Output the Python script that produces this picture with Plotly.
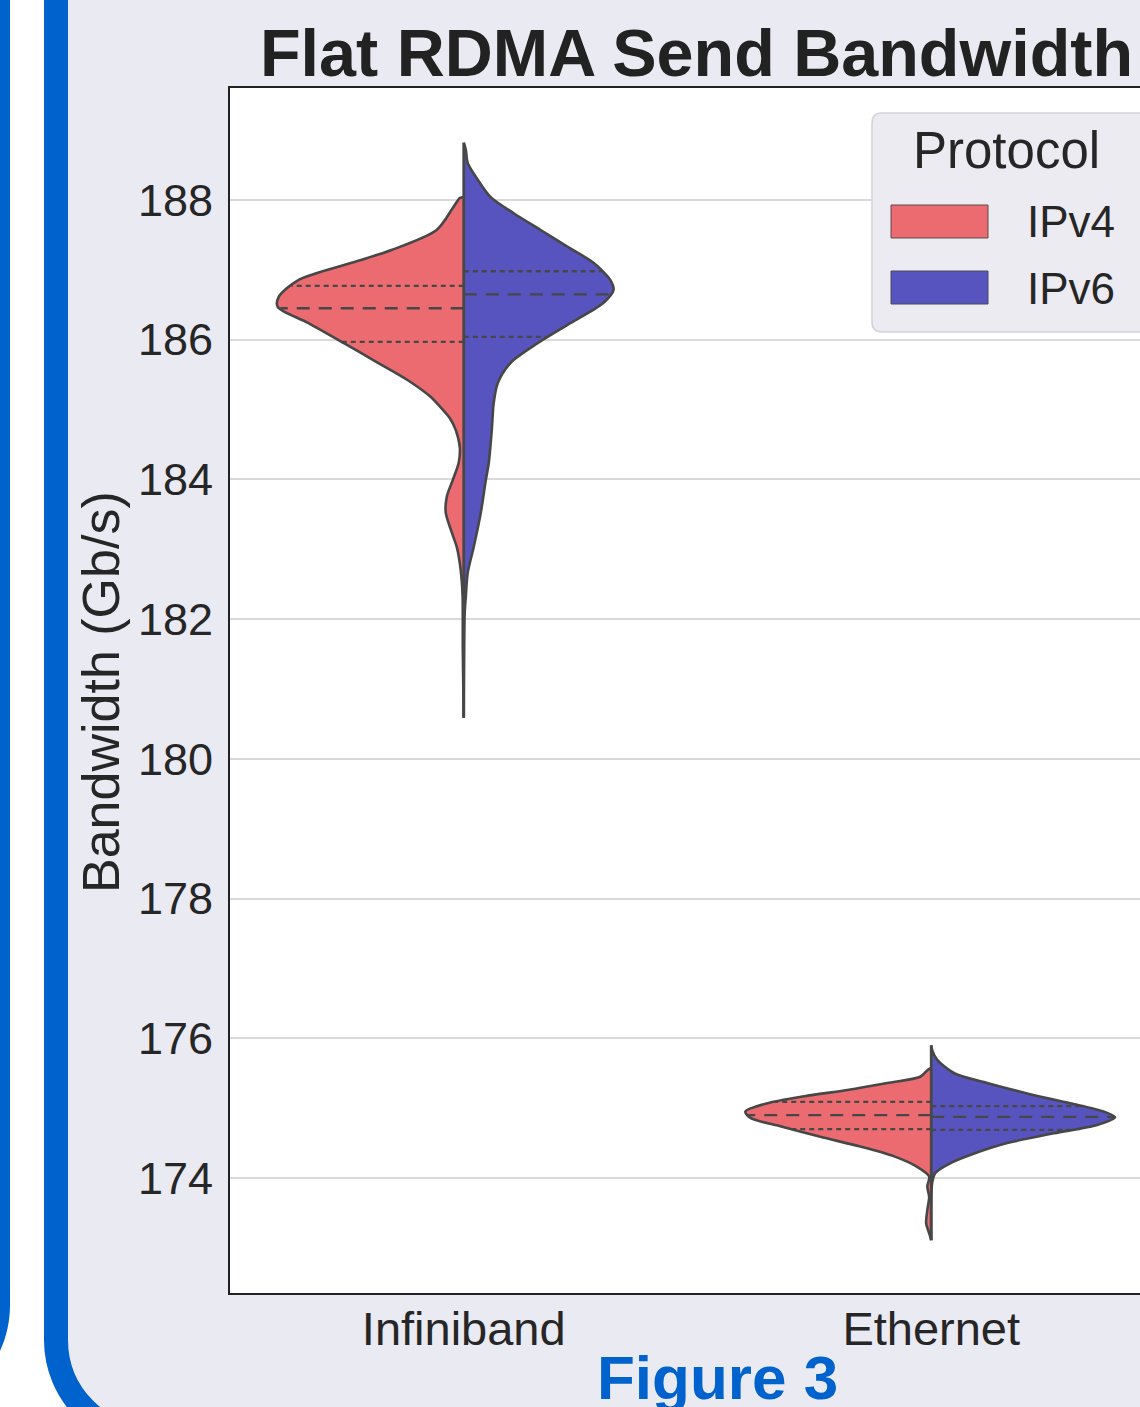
import numpy as np
import plotly.graph_objects as go

# ---------------- data ----------------
categories = ["Infiniband", "Ethernet"]
protocols = ["IPv4", "IPv6"]

# density profiles: bandwidth level (Gb/s) and relative density (1 = widest half)
ib_v4_bw = [188.04, 188.03, 187.90, 187.57, 187.28, 187.10, 186.85, 186.61, 186.47, 186.24,
            185.95, 185.67, 185.42, 185.18, 185.02, 184.88, 184.71, 184.46, 184.24, 183.99,
            183.75, 183.52, 183.28, 183.03, 182.80, 182.56, 182.32, 181.56, 180.59]
ib_v4_dens = [0.0, 0.02, 0.055, 0.145, 0.39, 0.60, 0.887, 0.99, 0.995, 0.833,
              0.641, 0.459, 0.299, 0.176, 0.12, 0.075, 0.043, 0.021, 0.027, 0.059,
              0.091, 0.096, 0.069, 0.037, 0.021, 0.011, 0.006, 0.005, 0.0]

ib_v6_bw = [188.82, 188.72, 188.53, 188.29, 188.04, 187.81, 187.57, 187.33, 187.10, 186.85,
            186.71, 186.53, 186.24, 185.95, 185.67, 185.38, 185.09, 184.71, 184.24, 183.99,
            183.52, 183.03, 182.66, 182.32, 182.09, 180.59]
ib_v6_dens = [0.0, 0.011, 0.021, 0.075, 0.144, 0.267, 0.411, 0.556, 0.694, 0.785,
              0.801, 0.748, 0.572, 0.395, 0.251, 0.182, 0.160, 0.150, 0.134, 0.118,
              0.091, 0.053, 0.021, 0.011, 0.005, 0.0]

eth_v4_bw = [175.57, 175.556, 175.45, 175.36, 175.26, 175.17, 175.07, 174.95, 174.86, 174.74,
             174.59, 174.45, 174.31, 174.16, 174.02, 173.88, 173.73, 173.54, 173.35, 173.21, 173.11]
eth_v4_dens = [0.0, 0.015, 0.059, 0.235, 0.449, 0.678, 0.876, 0.994, 0.967, 0.807,
               0.593, 0.379, 0.198, 0.075, 0.011, 0.021, 0.011, 0.021, 0.027, 0.011, 0.0]

eth_v6_bw = [175.90, 175.83, 175.69, 175.50, 175.36, 175.21, 175.07, 174.95, 174.87, 174.76,
             174.64, 174.50, 174.35, 174.21, 174.07, 173.93, 173.11]
eth_v6_dens = [0.0, 0.005, 0.032, 0.123, 0.299, 0.513, 0.743, 0.924, 0.983, 0.887,
               0.657, 0.406, 0.230, 0.101, 0.021, 0.005, 0.0]

# quartiles (Q1, median, Q3)
ib_v4_q = [185.97, 186.45, 186.77]
ib_v6_q = [186.04, 186.65, 186.98]
eth_v4_q = [174.70, 174.90, 175.09]
eth_v6_q = [174.69, 174.875, 175.03]

y_ticks = [174, 176, 178, 180, 182, 184, 186, 188]

# ---------------- style ----------------
W, H = 1140, 1407
PL, PR, PT, PB = 230, 1140, 88, 1293      # plot area in pixels
RED = "#EB6B70"
BLUE = "#5754BF"
EDGE = "#474747"
TXT = "#262626"
PANEL = "#EAEAF2"
BORDER = "#0062CC"
FONT = "Liberation Sans, Arial, sans-serif"
HALF = 0.4   # max half width in category units


def px(x):
    return (x - PL) / (PR - PL)


def py(y):
    return (PB - y) / (PB - PT)


def P(x, y):
    return f"{px(x):.5f},{py(y):.5f}"


fig = go.Figure()

groups = [
    (0, ib_v4_bw, ib_v4_dens, ib_v4_q, ib_v6_bw, ib_v6_dens, ib_v6_q),
    (1, eth_v4_bw, eth_v4_dens, eth_v4_q, eth_v6_bw, eth_v6_dens, eth_v6_q),
]

for c, lbw, ld, lq, rbw, rd, rq in groups:
    for bw, dens, q, sign, col, name in [(lbw, ld, lq, -1, RED, "IPv4"), (rbw, rd, rq, 1, BLUE, "IPv6")]:
        xs = [c + sign * HALF * d for d in dens]
        fig.add_trace(go.Scatter(
            x=xs, y=bw, mode="lines", fill="toself", fillcolor=col,
            line=dict(color=EDGE, width=2.6, shape="spline", smoothing=0.8),
            name=name, showlegend=False, hoverinfo="skip"))
        # quartile lines
        asc_bw = np.array(bw[::-1])
        asc_d = np.array(dens[::-1])
        for i, qv in enumerate(q):
            w = HALF * float(np.interp(qv, asc_bw, asc_d))
            dash = "13px,9px" if i == 1 else "5px,4px"
            fig.add_trace(go.Scatter(
                x=[c, c + sign * w], y=[qv, qv], mode="lines",
                line=dict(color=EDGE, width=2.3, dash=dash),
                showlegend=False, hoverinfo="skip"))
    # centre line
    lo = min(min(lbw), min(rbw))
    hi = max(max(lbw), max(rbw))
    fig.add_trace(go.Scatter(x=[c, c], y=[lo, hi], mode="lines",
                             line=dict(color=EDGE, width=2.8),
                             showlegend=False, hoverinfo="skip"))

# ---------------- decorative shapes ----------------
k = 0.5523
shapes = []
# white gap between panels
shapes.append(dict(type="path", xref="paper", yref="paper", layer="above",
                   path=f"M {P(-5,-5)} L {P(56,-5)} L {P(56,1340)} "
                        f"C {P(56,1340+k*98)} {P(154-k*98,1438)} {P(154,1438)} L {P(-5,1438)} Z",
                   fillcolor="white", line=dict(width=0)))
# our panel's blue border with rounded corner
shapes.append(dict(type="path", xref="paper", yref="paper", layer="above",
                   path=f"M {P(56,-20)} L {P(56,1340)} "
                        f"C {P(56,1340+k*98)} {P(154-k*98,1438)} {P(154,1438)}",
                   line=dict(color=BORDER, width=24)))
# neighbouring panel border (left edge)
shapes.append(dict(type="path", xref="paper", yref="paper", layer="above",
                   path=f"M {P(-50,-10)} L {P(10,-10)} L {P(10,1305)} "
                        f"C {P(10,1305+k*110)} {P(-100+k*110,1415)} {P(-100,1415)} Z",
                   fillcolor=BORDER, line=dict(width=0)))

# legend box (clipped at the right edge)
r = 10
shapes.append(dict(type="path", xref="paper", yref="paper", layer="above",
                   path=f"M {P(1160,113)} L {P(872+r,113)} Q {P(872,113)} {P(872,113+r)} "
                        f"L {P(872,332-r)} Q {P(872,332)} {P(872+r,332)} L {P(1160,332)} Z",
                   fillcolor="#EBEBF1", line=dict(color="#D2D2DA", width=1.5)))
shapes.append(dict(type="rect", xref="paper", yref="paper", layer="above",
                   x0=px(891), x1=px(988), y0=py(205), y1=py(238),
                   fillcolor=RED, line=dict(color="#5a4a4a", width=1)))
shapes.append(dict(type="rect", xref="paper", yref="paper", layer="above",
                   x0=px(891), x1=px(988), y0=py(271), y1=py(304),
                   fillcolor=BLUE, line=dict(color="#4a4a5a", width=1)))

annotations = [
    dict(text="<b>Flat RDMA Send Bandwidth</b>", x=px(696), y=py(53), xref="paper", yref="paper",
         xanchor="center", yanchor="middle", showarrow=False,
         font=dict(family=FONT, size=66.5, color="#222222")),
    dict(text="Bandwidth (Gb/s)", x=px(101), y=py(692), xref="paper", yref="paper",
         xanchor="center", yanchor="middle", showarrow=False, textangle=-90,
         font=dict(family=FONT, size=52, color=TXT)),
    dict(text="Protocol", x=px(1006), y=py(150), xref="paper", yref="paper",
         xanchor="center", yanchor="middle", showarrow=False,
         font=dict(family=FONT, size=51, color=TXT)),
    dict(text=protocols[0], x=px(1025), y=py(221.5), xref="paper", yref="paper",
         xanchor="left", yanchor="middle", showarrow=False,
         font=dict(family=FONT, size=44, color=TXT)),
    dict(text=protocols[1], x=px(1025), y=py(288), xref="paper", yref="paper",
         xanchor="left", yanchor="middle", showarrow=False,
         font=dict(family=FONT, size=44, color=TXT)),
    dict(text="<b>Figure 3</b>", x=px(717), y=py(1377), xref="paper", yref="paper",
         xanchor="center", yanchor="middle", showarrow=False,
         font=dict(family=FONT, size=62, color=BORDER)),
]

cat_pos = list(range(len(categories)))
fig.update_layout(
    width=W, height=H,
    margin=dict(l=PL, r=W - PR, t=PT, b=H - PB, autoexpand=False, pad=0),
    paper_bgcolor=PANEL, plot_bgcolor="white",
    showlegend=False,
    shapes=shapes, annotations=annotations,
    xaxis=dict(range=[-0.5, (PR - 463) / 468], tickvals=cat_pos, ticktext=categories,
               showgrid=False, zeroline=False, showline=True, mirror=True,
               linecolor="#222222", linewidth=2, ticks="", ticklabelstandoff=-6,
               tickfont=dict(family=FONT, size=47, color=TXT), fixedrange=True),
    yaxis=dict(range=[172.354, 189.603], tickvals=y_ticks, ticktext=[str(t) for t in y_ticks],
               showgrid=True, gridcolor="#D9D9D9", gridwidth=2, zeroline=False,
               showline=True, mirror=False, linecolor="#222222", linewidth=2,
               ticks="", ticklabelstandoff=6,
               tickfont=dict(family=FONT, size=45, color=TXT), fixedrange=True),
)

fig.write_html("out.html", config={"displayModeBar": False},
               post_script="document.body.style.margin='0px';document.body.style.overflow='hidden';")
